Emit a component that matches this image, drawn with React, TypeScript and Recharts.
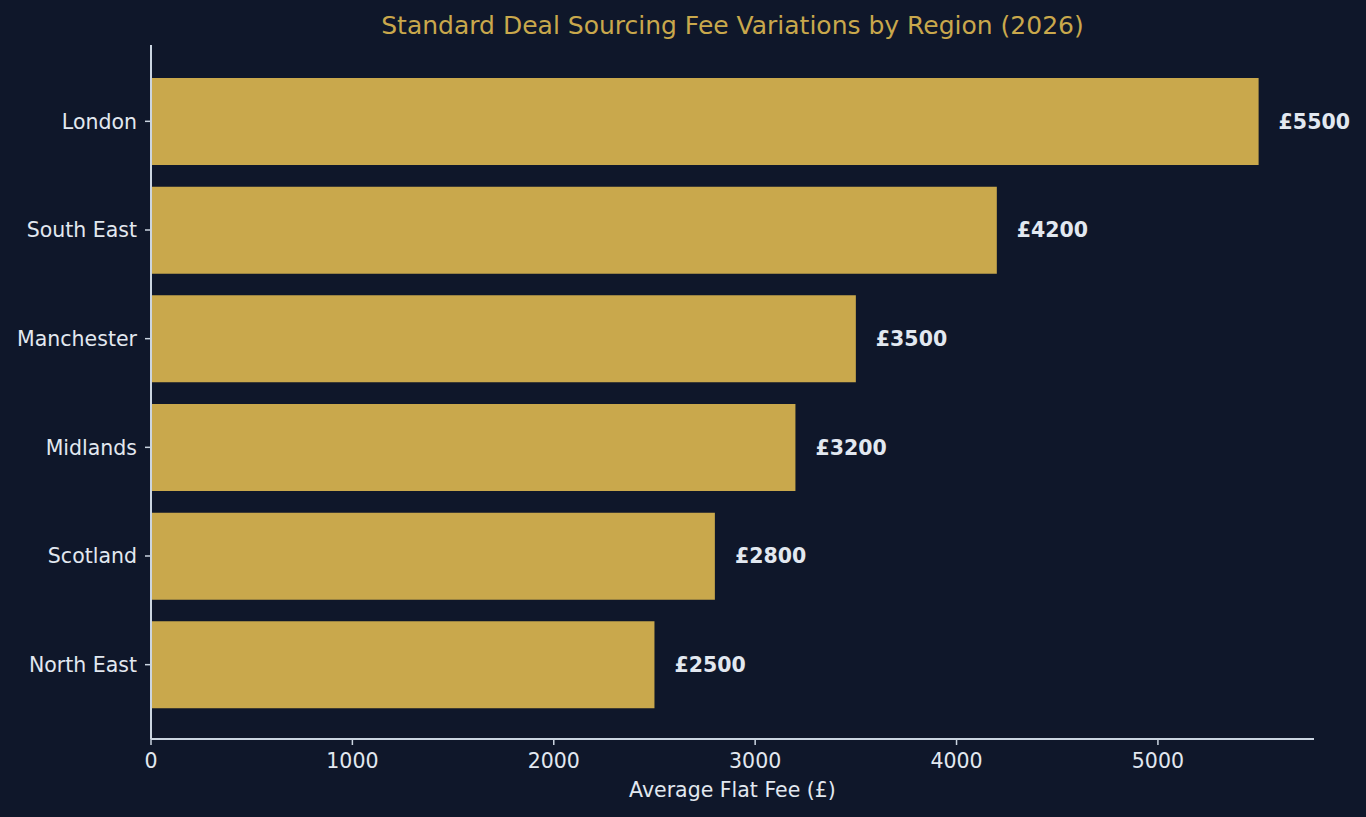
import { BarChart, Bar, XAxis, YAxis, LabelList } from 'recharts';

const regions = ['London', 'South East', 'Manchester', 'Midlands', 'Scotland', 'North East'];
const fees = [5500, 4200, 3500, 3200, 2800, 2500];
const feeTicks = [0, 1000, 2000, 3000, 4000, 5000];

const data = regions.map((region, i) => ({ region, fee: fees[i] }));

const bg = '#0f172a';
const gold = '#c9a84c';
const textColor = '#e2e8f0';
const axisColor = '#cbd5e1';
const font = '"DejaVu Sans", sans-serif';

export default function App() {
    return (
        <div style={{ position: 'fixed', top: 0, left: 0, width: 1366, height: 817, background: bg, fontFamily: font }}>
            <svg width={1366} height={50} style={{ position: 'absolute', top: 0, left: 0 }}>
                <text x={732.5} y={34} textAnchor="middle" fill={gold} fontSize={25} fontFamily={font}>
                    Standard Deal Sourcing Fee Variations by Region (2026)
                </text>
            </svg>
            <div style={{ position: 'absolute', top: 0, left: 0 }}>
                <BarChart
                    width={1366}
                    height={817}
                    data={data}
                    layout="vertical"
                    margin={{ top: 45, right: 52, bottom: 0, left: 0 }}
                >
                    <XAxis
                        type="number"
                        dataKey="fee"
                        domain={[0, 5775]}
                        ticks={feeTicks}
                        height={78}
                        tickSize={6}
                        tickMargin={8}
                        axisLine={{ stroke: axisColor, strokeWidth: 2 }}
                        tickLine={{ stroke: axisColor, strokeWidth: 1.5 }}
                        tick={{ fill: textColor, fontSize: 20.5, fontFamily: font }}
                        label={{ value: 'Average Flat Fee (£)', position: 'insideBottom', offset: 20, fill: textColor, fontSize: 20.5, fontFamily: font }}
                    />
                    <YAxis
                        type="category"
                        dataKey="region"
                        width={151}
                        tickSize={6}
                        tickMargin={8}
                        padding={{ top: 22, bottom: 20 }}
                        axisLine={{ stroke: axisColor, strokeWidth: 2 }}
                        tickLine={{ stroke: axisColor, strokeWidth: 1.5 }}
                        tick={{ fill: textColor, fontSize: 20.5, fontFamily: font }}
                    />
                    <Bar dataKey="fee" fill={gold} barSize={87} isAnimationActive={false}>
                        <LabelList
                            dataKey="fee"
                            position="right"
                            offset={20}
                            formatter={(v: any) => `£${v}`}
                            fill={textColor}
                            fontSize={20.5}
                            fontWeight="bold"
                            fontFamily={font}
                        />
                    </Bar>
                </BarChart>
            </div>
        </div>
    );
}
